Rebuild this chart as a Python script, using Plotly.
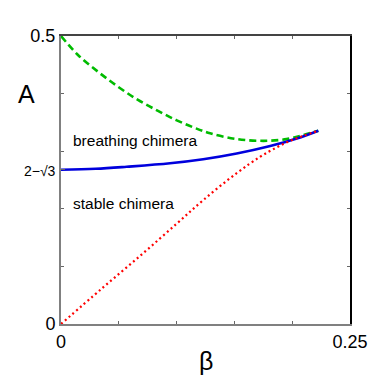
import plotly.graph_objects as go

# curves (beta, A)
green_beta = [0.0, 0.0147, 0.032, 0.0493, 0.0666, 0.0839, 0.0997, 0.115, 0.129, 0.152, 0.175, 0.195, 0.2096, 0.2226]
green_A = [0.5, 0.467, 0.438, 0.412, 0.389, 0.370, 0.354, 0.341, 0.331, 0.321, 0.318, 0.321, 0.328, 0.3356]

blue_beta = [0.0, 0.03, 0.0568, 0.0943, 0.123, 0.152, 0.181, 0.204, 0.2226]
blue_A = [0.2679, 0.2695, 0.273, 0.279, 0.286, 0.296, 0.309, 0.322, 0.3356]

red_beta = [0.0, 0.035, 0.07, 0.1, 0.123, 0.152, 0.172, 0.186, 0.197, 0.21, 0.2226]
red_A = [0.0, 0.061, 0.121, 0.174, 0.215, 0.262, 0.290, 0.306, 0.317, 0.327, 0.3356]

x_ticks = [0, 0.25]
x_ticklabels = ["0", "0.25"]
x_minor = [0.05, 0.1, 0.15, 0.2]
y_ticks = [0, 0.2679, 0.5]
y_ticklabels = ["0", "<span style='font-size:14px'>2\u2212\u221a3</span>", "0.5"]
y_minor = [0.1, 0.2, 0.3, 0.4]

font = "Liberation Sans, Arial, sans-serif"

fig = go.Figure()
fig.add_trace(go.Scatter(x=green_beta, y=green_A, mode="lines", line=dict(color="#00bb00", width=2.6, dash="7px,4px", shape="spline")))
fig.add_trace(go.Scatter(x=blue_beta, y=blue_A, mode="lines", line=dict(color="#0000dd", width=2.6, shape="spline")))
fig.add_trace(go.Scatter(x=red_beta, y=red_A, mode="lines", line=dict(color="#ff0000", width=2.2, dash="2px,3px", shape="spline")))

# invisible trace for the mirrored (top/right) axes
fig.add_trace(go.Scatter(x=[0], y=[0], xaxis="x2", yaxis="y2", mode="markers", marker=dict(opacity=0), hoverinfo="skip"))

# page body has an 8px margin, so the figure is sized and offset for it
fig.update_layout(
    width=380, height=381,
    margin=dict(l=53, r=38, t=28, b=65),
    paper_bgcolor="white", plot_bgcolor="white",
    showlegend=False,
    font=dict(family=font, size=18, color="black"),
    xaxis=dict(range=[0, 0.25], tickvals=x_ticks, ticktext=x_ticklabels, ticks="inside", ticklen=4,
               tickcolor="#666", showline=True, linecolor="#808080", linewidth=2, showgrid=False,
               zeroline=False, minor=dict(tickvals=x_minor, ticks="inside", ticklen=3, tickcolor="#666")),
    yaxis=dict(range=[0, 0.5], tickvals=y_ticks, ticktext=y_ticklabels, ticks="inside", ticklen=4,
               tickcolor="#666", showline=True, linecolor="#808080", linewidth=2, showgrid=False,
               zeroline=False, minor=dict(tickvals=y_minor, ticks="inside", ticklen=3, tickcolor="#666")),
    xaxis2=dict(range=[0, 0.25], overlaying="x", side="top", showticklabels=False, tickvals=x_minor,
                ticks="inside", ticklen=3, tickcolor="#666", showline=True, linecolor="#444", linewidth=1.5,
                showgrid=False, zeroline=False),
    yaxis2=dict(range=[0, 0.5], overlaying="y", side="right", showticklabels=False, tickvals=y_minor,
                ticks="inside", ticklen=3, tickcolor="#666", showline=True, linecolor="black", linewidth=1.5,
                showgrid=False, zeroline=False),
)

fig.add_annotation(text="A", x=-0.12, y=0.8, xref="paper", yref="paper", showarrow=False,
                   xanchor="center", yanchor="middle", font=dict(size=25))
fig.add_annotation(text="\u03b2", x=0.5, y=-0.128, xref="paper", yref="paper", showarrow=False,
                   xanchor="center", yanchor="middle", font=dict(size=25))
fig.add_annotation(text="breathing chimera", x=0.035, y=0.318, xref="paper", yref="y", showarrow=False,
                   xanchor="left", yanchor="middle", font=dict(size=15.5))
fig.add_annotation(text="stable chimera", x=0.035, y=0.21, xref="paper", yref="y", showarrow=False,
                   xanchor="left", yanchor="middle", font=dict(size=15.5))

fig.write_html("out.html")
